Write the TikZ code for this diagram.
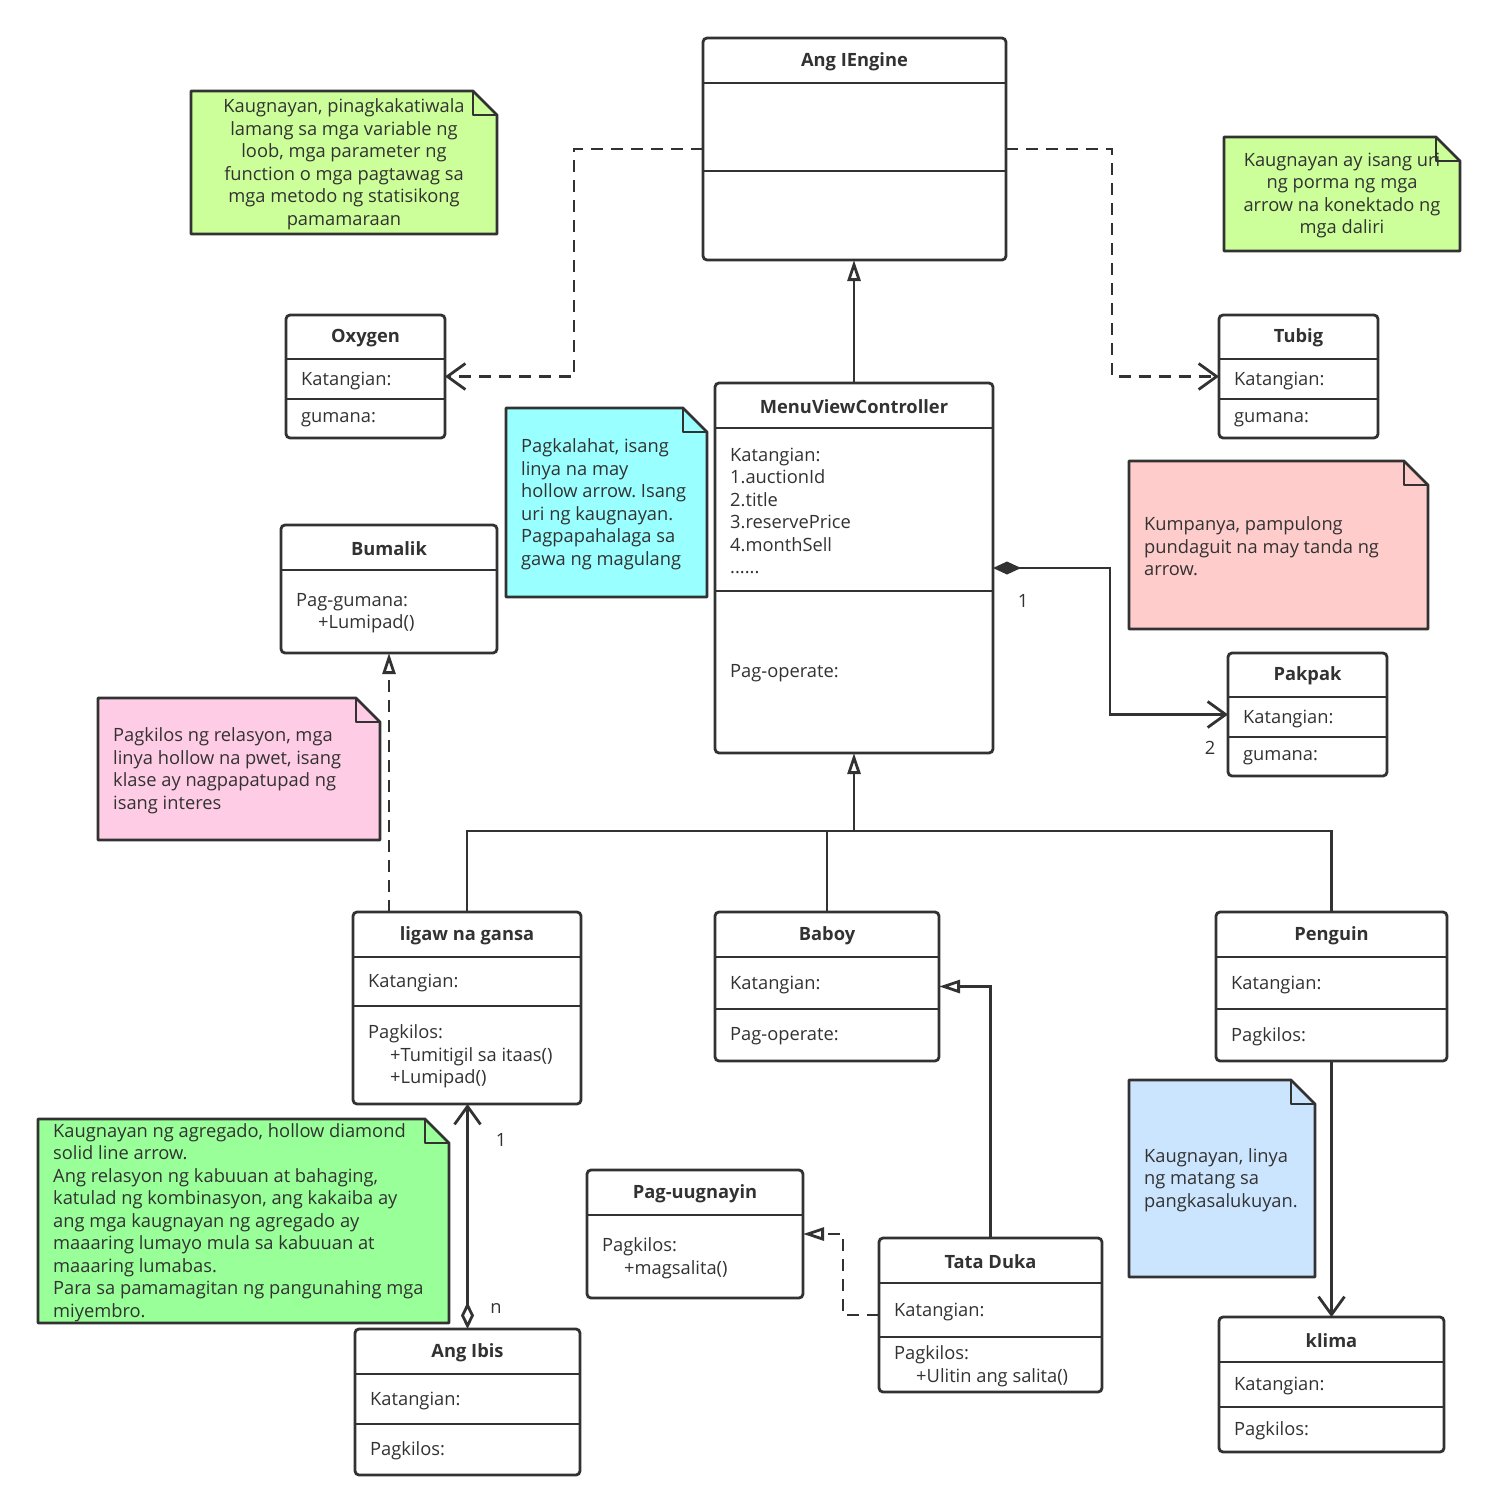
\documentclass[tikz,border=0pt]{standalone}
\usepackage{fontspec}
\setmainfont{Open Sans}
\usetikzlibrary{arrows.meta}
\definecolor{ink}{HTML}{323232}
\definecolor{limenote}{HTML}{CCFF99}
\definecolor{cyannote}{HTML}{99FFFF}
\definecolor{rosenote}{HTML}{FFCCCC}
\definecolor{pinknote}{HTML}{FFCCE6}
\definecolor{greennote}{HTML}{99FF99}
\definecolor{bluenote}{HTML}{CCE5FF}
\frenchspacing
\newcommand\fs{\fontsize{18.3}{22.5}\selectfont}
\newcommand\ind{\hspace*{22pt}}
\tikzset{
  cls/.style={draw=ink,line width=2.8pt,fill=white,rounded corners=4pt,inner sep=0pt,outer sep=0pt},
  ttl/.style={font=\fs\bfseries,text=ink,inner sep=0pt,yshift=-1pt},
  txt/.style={font=\fs,text=ink,inner sep=0pt,align=left,anchor=west,yshift=-1.5pt},
  notec/.style={font=\fs,text=ink,inner sep=0pt,align=center,yshift=-1.5pt},
  notel/.style={font=\fs,text=ink,inner sep=0pt,align=left,anchor=west,yshift=-1.5pt},
  lnk/.style={draw=ink,line width=2.8pt},
  vee/.style={-{Straight Barb[length=18pt,width=26pt]}},
  inh/.style={lnk,-{Triangle[open,length=21pt,width=13pt]}},
  real/.style={inh,dash pattern=on 12pt off 8pt},
  dep/.style={lnk,vee,dash pattern=on 12pt off 8pt},
  assoc/.style={lnk,vee},
  comp/.style={lnk,{Diamond[length=28pt,width=13pt]}-{Straight Barb[length=18pt,width=26pt]}},
  agg/.style={lnk,{Diamond[open,length=27pt,width=13pt]}-{Straight Barb[length=18pt,width=26pt]}},
  mult/.style={font=\fs,text=ink,inner sep=0pt}
}
\begin{document}
\begin{tikzpicture}[x=1pt,y=-1pt]
\useasboundingbox (0,0) rectangle (1497,1512);
% notes
\foreach \nm/\xa/\ya/\xb/\yb/\col/\how/\tx/\txt in {
  n1/191/91/497/234/limenote/notec/344/{Kaugnayan, pinagkakatiwala\\lamang sa mga variable ng\\loob, mga parameter ng\\function o mga pagtawag sa\\mga metodo ng statisikong\\pamamaraan},
  n2/1224/137/1460/251/limenote/notec/1342/{Kaugnayan ay isang uri\\ng porma ng mga\\arrow na konektado ng\\mga daliri},
  n3/506/408/707/597/cyannote/notel/521/{Pagkalahat, isang\\linya na may\\hollow arrow. Isang\\uri ng kaugnayan.\\Pagpapahalaga sa\\gawa ng magulang},
  n4/1129/461/1428/629/rosenote/notel/1144/{Kumpanya, pampulong\\pundaguit na may tanda ng\\arrow.},
  n5/98/698/380/840/pinknote/notel/113/{Pagkilos ng relasyon, mga\\linya hollow na pwet, isang\\klase ay nagpapatupad ng\\isang interes},
  n6/38/1119/449/1323/greennote/notel/53/{Kaugnayan ng agregado, hollow diamond\\solid line arrow.\\Ang relasyon ng kabuuan at bahaging,\\katulad ng kombinasyon, ang kakaiba ay\\ang mga kaugnayan ng agregado ay\\maaaring lumayo mula sa kabuuan at\\maaaring lumabas.\\Para sa pamamagitan ng pangunahing mga\\miyembro.},
  n7/1129/1080/1315/1277/bluenote/notel/1144/{Kaugnayan, linya\\ng matang sa\\pangkasalukuyan.}}{
  \filldraw[fill=\col,draw=ink,line width=2.8pt,line join=round] (\xa,\ya) -- ({\xb-24},\ya) -- (\xb,{\ya+24}) -- (\xb,\yb) -- (\xa,\yb) -- cycle;
  \draw[ink,line width=2.8pt,line join=round] ({\xb-24},\ya) -- ({\xb-24},{\ya+24}) -- (\xb,{\ya+24});
  \node[\how] (\nm) at (\tx,{(\ya+\yb)/2}) {\txt};
}
% classes with three parts
\foreach \nm/\xa/\ya/\xb/\yb/\da/\db/\ttl/\ta/\tb in {
  oxy/286/315/445/438/359/399/Oxygen/{Katangian:}/{gumana:},
  tub/1219/315/1378/438/359/399/Tubig/{Katangian:}/{gumana:},
  mvc/715/383/993/753/428/591/MenuViewController/{Katangian:\\1.auctionId\\2.title\\3.reservePrice\\4.monthSell\\......}/{Pag-operate:},
  pak/1228/653/1387/776/697/737/Pakpak/{Katangian:}/{gumana:},
  lig/353/912/581/1104/957/1006/ligaw na gansa/{Katangian:}/{Pagkilos:\\\ind+Tumitigil sa itaas()\\\ind+Lumipad()},
  bab/715/912/939/1061/957/1009/Baboy/{Katangian:}/{Pag-operate:},
  pen/1216/912/1447/1061/957/1009/Penguin/{Katangian:}/{Pagkilos:},
  tat/879/1238/1102/1392/1283/1337/Tata Duka/{Katangian:}/{Pagkilos:\\\ind+Ulitin ang salita()},
  ibi/355/1329/580/1475/1374/1424/Ang Ibis/{Katangian:}/{Pagkilos:},
  kli/1219/1317/1444/1452/1362/1407/klima/{Katangian:}/{Pagkilos:}}{
  \node[cls,minimum width={(\xb-\xa)*1pt},minimum height={(\yb-\ya)*1pt}] (\nm) at ({(\xa+\xb)/2},{(\ya+\yb)/2}) {};
  \draw[ink,line width=2.8pt] (\nm.west |- 0,\da) -- (\nm.east |- 0,\da);
  \draw[ink,line width=2.8pt] (\nm.west |- 0,\db) -- (\nm.east |- 0,\db);
  \node[ttl] (\nm-t) at ({(\xa+\xb)/2},{(\ya+\da)/2}) {\ttl};
  \node[txt] (\nm-a) at ({\xa+15},{(\da+\db)/2}) {\ta};
  \node[txt] (\nm-b) at ({\xa+15},{(\db+\yb)/2}) {\tb};
}
% classes with two parts
\foreach \nm/\xa/\ya/\xb/\yb/\da/\ttl/\ta in {
  bum/281/525/497/653/570/Bumalik/{Pag-gumana:\\\ind+Lumipad()},
  pag/587/1170/803/1298/1215/Pag-uugnayin/{Pagkilos:\\\ind+magsalita()}}{
  \node[cls,minimum width={(\xb-\xa)*1pt},minimum height={(\yb-\ya)*1pt}] (\nm) at ({(\xa+\xb)/2},{(\ya+\yb)/2}) {};
  \draw[ink,line width=2.8pt] (\nm.west |- 0,\da) -- (\nm.east |- 0,\da);
  \node[ttl] (\nm-t) at ({(\xa+\xb)/2},{(\ya+\da)/2}) {\ttl};
  \node[txt] (\nm-a) at ({\xa+15},{(\da+\yb)/2}) {\ta};
}
% interface
\node[cls,minimum width=303pt,minimum height=222pt] (ieng) at (854.5,149) {};
\draw[ink,line width=2.8pt] (ieng.west |- 0,83) -- (ieng.east |- 0,83);
\draw[ink,line width=2.8pt] (ieng.west |- 0,171) -- (ieng.east |- 0,171);
\node[ttl] (ieng-t) at (854.5,60.5) {Ang IEngine};
% connectors
\draw[dep] (ieng.west) -- ++(-129,0) |- (oxy.east);
\draw[dep] (ieng.east) -- ++(106,0) |- (tub.west);
\draw[inh] (mvc.north) -- (mvc.north |- ieng.south);
\draw[comp] (mvc.east) -- ++(117,0) |- (pak.west);
\node[mult] (m1) at (1023,601) {1};
\node[mult] (m2) at (1210,748) {2};
\coordinate (bus) at (854,831);
\draw[lnk] (lig.north) |- (bus) -| (pen.north);
\draw[lnk] (bab.north) -- (bab.north |- bus);
\draw[inh] (bus) -- (mvc.south);
\draw[real] (bum.south |- lig.north) -- (bum.south);
\draw[agg] (ibi.north) -- (ibi.north |- lig.south);
\node[mult] (m3) at (501,1140) {1};
\node[mult] (m4) at (496,1308) {n};
\draw[inh] (tat.north) |- (bab.east);
\draw[real] (tat.west) -- ++(-36,0) |- (pag.east);
\draw[assoc] (pen.south) -- (kli.north);
\end{tikzpicture}
\end{document}
